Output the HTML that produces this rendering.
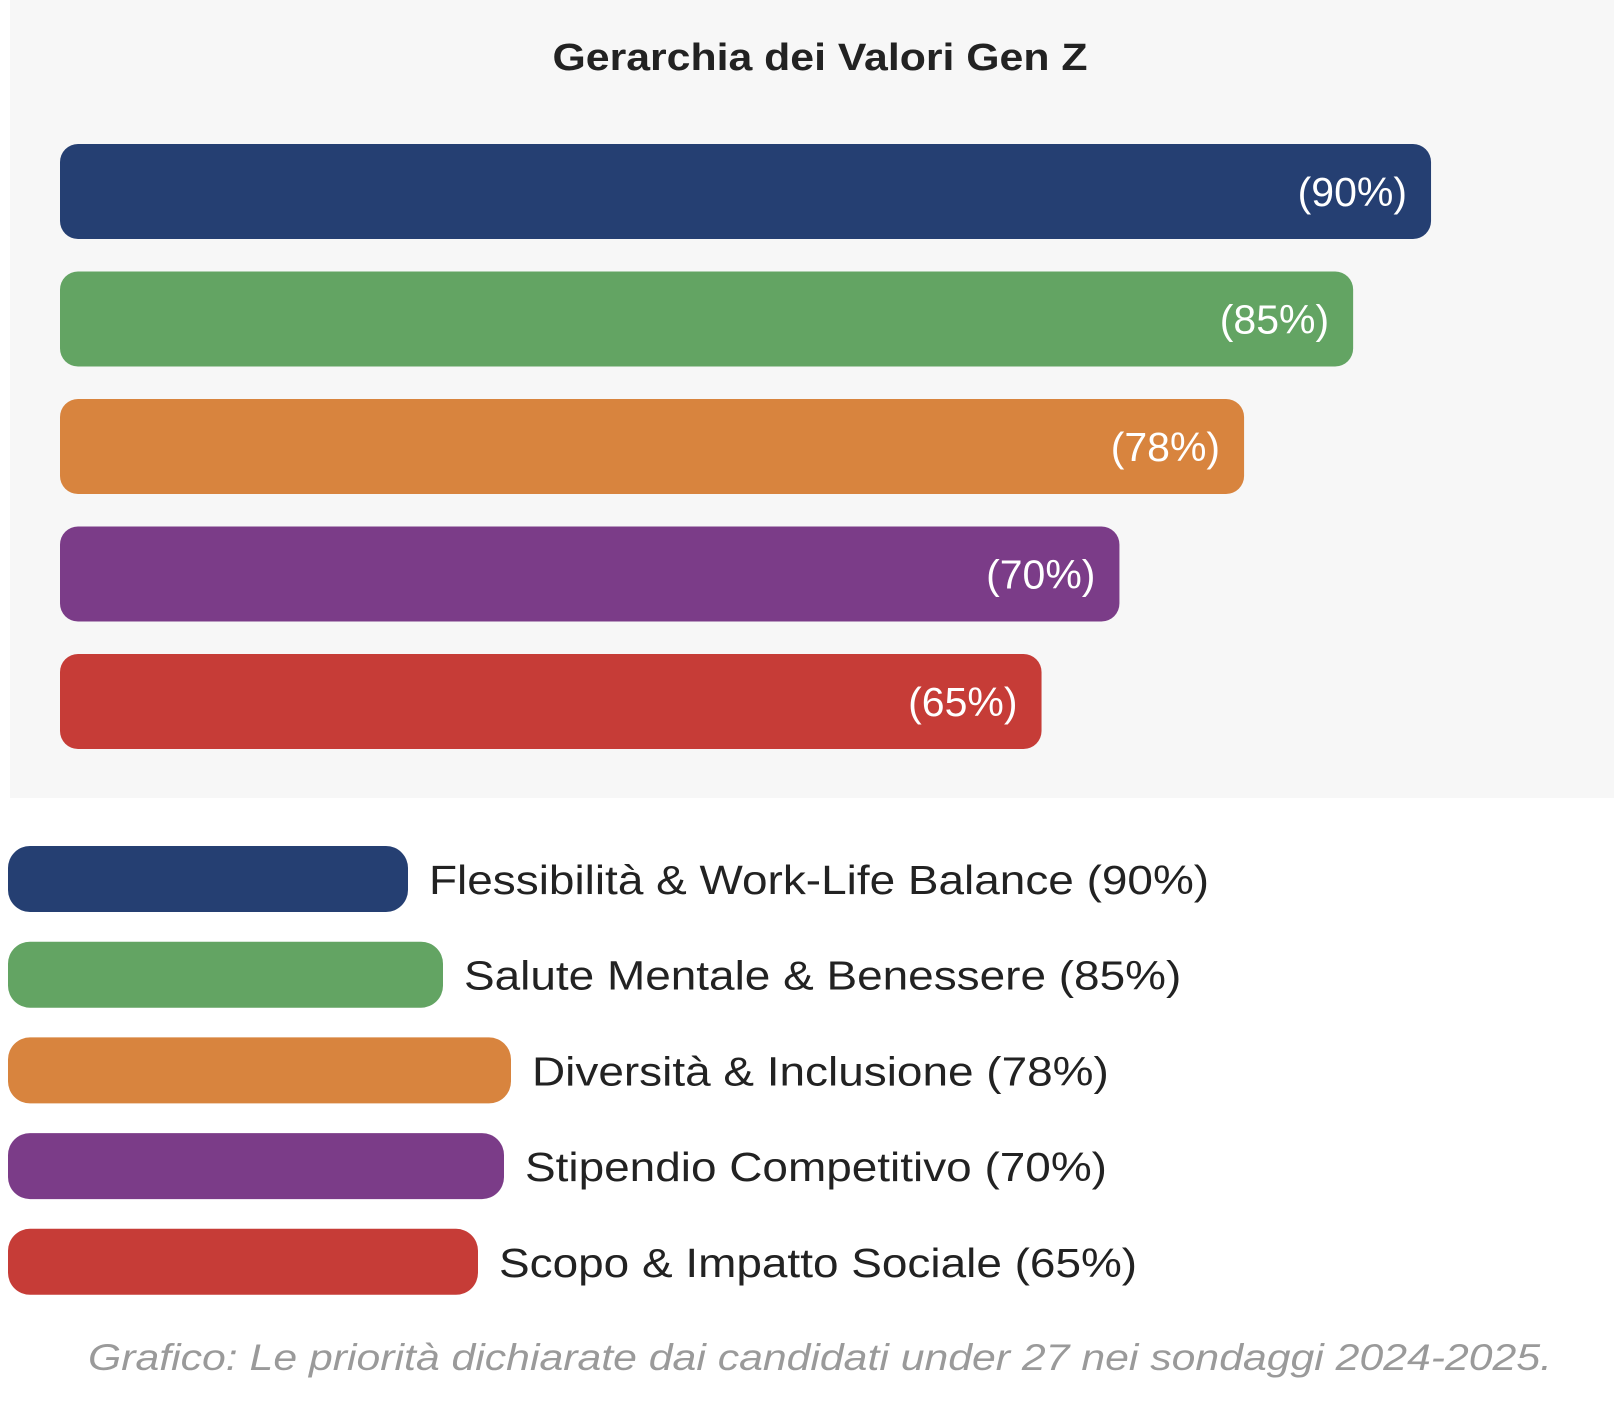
<!DOCTYPE html>
<html><head><meta charset="utf-8"><style>
html,body{margin:0;padding:0;background:#fff;}
svg{display:block;font-family:"Liberation Sans",sans-serif;}
</style></head><body>
<svg id="chart" width="1614" height="1412" viewBox="0 0 1614 1412">
<rect x="10" y="0" width="1604" height="798" fill="#f7f7f7"/>
<text x="820" y="70" text-anchor="middle" font-size="38" font-weight="bold" fill="#222" textLength="535" lengthAdjust="spacingAndGlyphs">Gerarchia dei Valori Gen Z</text>
<g id="bars"></g>
<g id="legend"></g>
<text x="820" y="1370" text-anchor="middle" font-size="37" font-style="italic" fill="#9a9a9a" textLength="1464" lengthAdjust="spacingAndGlyphs">Grafico: Le priorità dichiarate dai candidati under 27 nei sondaggi 2024-2025.</text>
</svg>
<script>
const categories = ["Flessibilità & Work-Life Balance","Salute Mentale & Benessere","Diversità & Inclusione","Stipendio Competitivo","Scopo & Impatto Sociale"];
const values = [90,85,78,70,65];
const colors = ["#253f72","#63a463","#d8843e","#7b3c88","#c63c37"];
const NS="http://www.w3.org/2000/svg";
const x0=60, domainMin=2, pxPerUnit=15.58;
function xScale(v){return x0+(v-domainMin)*pxPerUnit;}
function yBar(i){return 144+i*127.5;}
const bars=document.getElementById('bars');
values.forEach((v,i)=>{
  const r=document.createElementNS(NS,'rect');
  
  
  r.setAttribute('x',x0);r.setAttribute('y',yBar(i));
  r.setAttribute('width',xScale(v)-x0);r.setAttribute('height',95);
  r.setAttribute('rx',18);r.setAttribute('fill',colors[i]);
  bars.appendChild(r);
  const t=document.createElementNS(NS,'text');
  
  
  t.setAttribute('x',xScale(v)-24);t.setAttribute('y',yBar(i)+62);
  t.setAttribute('text-anchor','end');t.setAttribute('font-size','41');
  t.setAttribute('fill','#fff');
  t.textContent='('+v+'%)';
  bars.appendChild(t);
});
const swatchW=[400,435,503,496,470];
const leg=document.getElementById('legend');
values.forEach((v,i)=>{
  const y=846+i*95.7;
  const r=document.createElementNS(NS,'rect');
  
  
  r.setAttribute('x',8);r.setAttribute('y',y);
  r.setAttribute('width',swatchW[i]);r.setAttribute('height',66);
  r.setAttribute('rx',22);r.setAttribute('fill',colors[i]);
  leg.appendChild(r);
  const t=document.createElementNS(NS,'text');
  
  
  t.setAttribute('x',8+swatchW[i]+21);t.setAttribute('y',y+48);
  t.setAttribute('font-size','41');t.setAttribute('fill','#222');
  t.textContent=categories[i]+' ('+v+'%)';
  leg.appendChild(t);
  const w=t.getComputedTextLength();
  t.setAttribute('textLength',w*1.12);
  t.setAttribute('lengthAdjust','spacingAndGlyphs');
});
</script>
</body></html>
